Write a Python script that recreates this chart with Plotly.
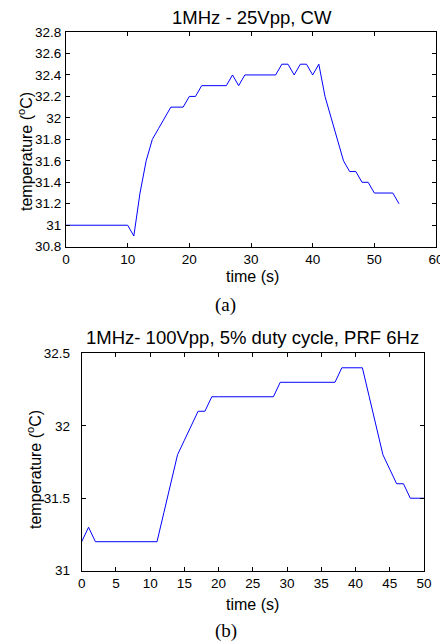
import plotly.graph_objects as go

# Panel (a): 1MHz - 25Vpp, CW
time_a = [0, 1, 2, 3, 4, 5, 6, 7, 8, 9, 10, 11, 12, 13, 14, 15, 16, 17, 18, 19,
          20, 21, 22, 23, 24, 25, 26, 27, 28, 29, 30, 31, 32, 33, 34, 35, 36, 37,
          38, 39, 40, 41, 42, 43, 44, 45, 46, 47, 48, 49, 50, 51, 52, 53, 54]
temp_a = [31.0, 31.0, 31.0, 31.0, 31.0, 31.0, 31.0, 31.0, 31.0, 31.0, 31.0, 30.9,
          31.3, 31.6, 31.8, 31.9, 32.0, 32.1, 32.1, 32.1, 32.2, 32.2, 32.3, 32.3,
          32.3, 32.3, 32.3, 32.4, 32.3, 32.4, 32.4, 32.4, 32.4, 32.4, 32.4, 32.5,
          32.5, 32.4, 32.5, 32.5, 32.4, 32.5, 32.2, 32.0, 31.8, 31.6, 31.5, 31.5,
          31.4, 31.4, 31.3, 31.3, 31.3, 31.3, 31.2]

# Panel (b): 1MHz- 100Vpp, 5% duty cycle, PRF 6Hz
time_b = [0, 1, 2, 3, 4, 5, 6, 7, 8, 9, 10, 11, 12, 13, 14, 15, 16, 17, 18, 19,
          20, 21, 22, 23, 24, 25, 26, 27, 28, 29, 30, 31, 32, 33, 34, 35, 36, 37,
          38, 39, 40, 41, 42, 43, 44, 45, 46, 47, 48, 49, 50]
temp_b = [31.2, 31.3, 31.2, 31.2, 31.2, 31.2, 31.2, 31.2, 31.2, 31.2, 31.2, 31.2,
          31.4, 31.6, 31.8, 31.9, 32.0, 32.1, 32.1, 32.2, 32.2, 32.2, 32.2, 32.2,
          32.2, 32.2, 32.2, 32.2, 32.2, 32.3, 32.3, 32.3, 32.3, 32.3, 32.3, 32.3,
          32.3, 32.3, 32.4, 32.4, 32.4, 32.4, 32.2, 32.0, 31.8, 31.7, 31.6, 31.6,
          31.5, 31.5, 31.5]

title_a = "1MHz - 25Vpp, CW"
title_b = "1MHz- 100Vpp, 5% duty cycle, PRF 6Hz"
xlabel = "time (s)"
ylabel = "temperature (<sup>o</sup>C)"

# the page body has a default 8px margin, so the figure is drawn offset by 8px
OFF = 8
W, H = 448 - OFF, 644 - OFF
FONT = "Liberation Sans, Arial, sans-serif"
SERIF = "Liberation Serif, Times New Roman, serif"

fig = go.Figure()
fig.add_trace(go.Scatter(x=time_a, y=temp_a, mode="lines",
                         line=dict(color="#0000ff", width=1),
                         xaxis="x", yaxis="y", showlegend=False))
fig.add_trace(go.Scatter(x=time_b, y=temp_b, mode="lines",
                         line=dict(color="#0000ff", width=1),
                         xaxis="x2", yaxis="y2", showlegend=False))


def px_x(p):
    return (p - OFF) / W


def px_y(p):
    return 1 - (p - OFF) / H


axis_common = dict(showline=True, linecolor="black", linewidth=1, mirror="ticks",
                   ticks="inside", ticklen=4, tickcolor="black", tickwidth=1,
                   showgrid=False, zeroline=False, automargin=False,
                   tickfont=dict(family=FONT, size=13.5, color="black"))

# plot-area geometry in window pixels
a_l, a_r, a_t, a_b = 66, 436, 32, 246.7
b_l, b_r, b_t, b_b = 81.7, 424, 353.3, 570.7

fig.update_layout(
    width=W, height=H,
    margin=dict(l=0, r=0, t=0, b=0),
    paper_bgcolor="white", plot_bgcolor="white",
    xaxis=dict(domain=[px_x(a_l), px_x(a_r)], range=[0, 60], dtick=10, tick0=0,
               anchor="y", **axis_common),
    yaxis=dict(domain=[px_y(a_b), px_y(a_t)], range=[30.8, 32.8], dtick=0.2, tick0=30.8,
               anchor="x", ticklabelstandoff=1, **axis_common),
    xaxis2=dict(domain=[px_x(b_l), px_x(b_r)], range=[0, 50], dtick=5, tick0=0,
                anchor="y2", **axis_common),
    yaxis2=dict(domain=[px_y(b_b), px_y(b_t)], range=[31, 32.5], dtick=0.5, tick0=31,
                anchor="x2", ticklabelstandoff=8, **axis_common),
)


def text_ann(text, x, y, size, family=FONT, angle=0):
    return dict(text=text, x=px_x(x), y=px_y(y), xref="paper", yref="paper",
                showarrow=False, xanchor="center", yanchor="middle", textangle=angle,
                font=dict(family=family, size=size, color="black"))


ann = [
    text_ann(title_a, 252, 17, 18.5),
    text_ann(title_b, 252, 337, 18.5),
    text_ann(xlabel, 252, 276, 16),
    text_ann(xlabel, 253, 604, 16),
    text_ann(ylabel, 25, 152, 16, angle=-90),
    text_ann(ylabel, 34, 470, 16, angle=-90),
    text_ann("(a)", 225.5, 305, 19, family=SERIF),
    text_ann("(b)", 226, 631, 19, family=SERIF),
]
fig.update_layout(annotations=ann)

fig.write_html("out.html")
